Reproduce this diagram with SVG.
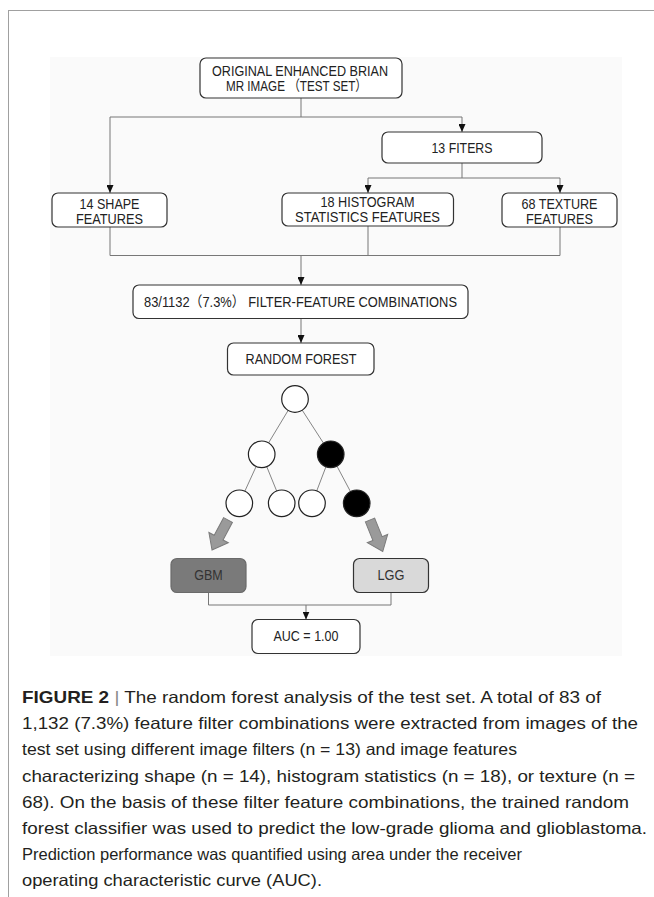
<svg xmlns="http://www.w3.org/2000/svg" width="654" height="897" viewBox="0 0 654 897">
<defs>
<marker id="ah" markerWidth="8" markerHeight="7" refX="8" refY="3.5" orient="auto" markerUnits="userSpaceOnUse"><path d="M0,0 L8,3.5 L0,7 z" fill="#111"/></marker>
<style>
.box{fill:#fff;stroke:#333;stroke-width:1.2}
.lbl{font-family:"Liberation Sans","Noto Sans CJK SC",sans-serif;font-size:14.5px;fill:#222;text-anchor:middle}
.ln{fill:none;stroke:#777;stroke-width:1}
.arr{marker-end:url(#ah)}
.edge{stroke:#777;stroke-width:0.9}
.nd{fill:#fff;stroke:#222;stroke-width:1.2}
.nd.blk{fill:#000}
.big{fill:#9a9a9a;stroke:#7a7a7a;stroke-width:1}
.cap{font-family:"Liberation Sans",Arial,sans-serif;font-size:16.5px;fill:#231f20}
</style>
</defs>
<rect x="0" y="0" width="654" height="897" fill="#fff"/>
<path d="M8,10.5 H654 M8.5,10 V897" fill="none" stroke="#a0a0a0" stroke-width="1"/>
<rect x="50" y="57" width="572" height="599" fill="#fafafa"/>

<g id="connectors">
<path class="ln" d="M301,98 V117"/>
<path class="ln arr" d="M301,117 H110 V193"/>
<path class="ln arr" d="M301,117 H462 V132"/>
<path class="ln" d="M462,163 V178"/>
<path class="ln arr" d="M462,178 H368 V193"/>
<path class="ln arr" d="M462,178 H560 V193"/>
<path class="ln" d="M110,227 V255.5 H301"/>
<path class="ln" d="M368,226 V255.5"/>
<path class="ln" d="M560,227 V255.5 H301"/>
<path class="ln arr" d="M301,255.5 V285"/>
<path class="ln arr" d="M301,318.5 V343"/>
<g class="edge">
<line x1="295" y1="399" x2="261.7" y2="454.3"/>
<line x1="295" y1="399" x2="330.7" y2="454.3"/>
<line x1="261.7" y1="454.3" x2="239.3" y2="503.3"/>
<line x1="261.7" y1="454.3" x2="281.7" y2="503.3"/>
<line x1="330.7" y1="454.3" x2="312" y2="503.3"/>
<line x1="330.7" y1="454.3" x2="356.7" y2="503.3"/>
</g>
<polygon class="big" transform="translate(228,520) rotate(28)" points="-5,0 5,0 5,20 11,20 0,34 -11,20 -5,20"/>
<polygon class="big" transform="translate(370,520) rotate(-22)" points="-5,0 5,0 5,20 11,20 0,34 -11,20 -5,20"/>
<path class="ln" d="M208.5,592.5 V605 H391 V592.5"/>
<path class="ln arr" d="M306,605 V619.5"/>
</g>

<g id="n-original">
<rect class="box" x="200" y="58" width="202" height="40" rx="6"/>
<text class="lbl" x="300" y="76" textLength="176" lengthAdjust="spacingAndGlyphs">ORIGINAL ENHANCED BRIAN</text>
<text class="lbl" x="296.5" y="91" textLength="141" lengthAdjust="spacingAndGlyphs">MR IMAGE （TEST SET）</text>
</g>
<g id="n-filters">
<rect class="box" x="382" y="132" width="160" height="31" rx="6"/>
<text class="lbl" x="462" y="152.5" textLength="61" lengthAdjust="spacingAndGlyphs">13 FITERS</text>
</g>
<g id="n-shape">
<rect class="box" x="52" y="193" width="115" height="34" rx="6"/>
<text class="lbl" x="109.5" y="208.5" textLength="60" lengthAdjust="spacingAndGlyphs">14 SHAPE</text>
<text class="lbl" x="109.5" y="223.5" textLength="67" lengthAdjust="spacingAndGlyphs">FEATURES</text>
</g>
<g id="n-histogram">
<rect class="box" x="282" y="193" width="171.5" height="33" rx="6"/>
<text class="lbl" x="367.5" y="207" textLength="94" lengthAdjust="spacingAndGlyphs">18 HISTOGRAM</text>
<text class="lbl" x="367.5" y="222" textLength="145" lengthAdjust="spacingAndGlyphs">STATISTICS FEATURES</text>
</g>
<g id="n-texture">
<rect class="box" x="502" y="193" width="115" height="34" rx="6"/>
<text class="lbl" x="559.5" y="208.5" textLength="76" lengthAdjust="spacingAndGlyphs">68 TEXTURE</text>
<text class="lbl" x="559.5" y="223.5" textLength="67" lengthAdjust="spacingAndGlyphs">FEATURES</text>
</g>
<g id="n-combinations">
<rect class="box" x="133" y="285" width="335" height="33.5" rx="6"/>
<text class="lbl" x="144" y="307" style="text-anchor:start" textLength="313" lengthAdjust="spacingAndGlyphs">83/1132（7.3%） FILTER-FEATURE COMBINATIONS</text>
</g>
<g id="n-forest">
<rect class="box" x="227.5" y="343" width="146.5" height="32" rx="6"/>
<text class="lbl" x="301" y="364" textLength="111" lengthAdjust="spacingAndGlyphs">RANDOM FOREST</text>
</g>
<g id="n-tree">
<circle class="nd" cx="295" cy="399" r="13.3"/>
<circle class="nd" cx="261.7" cy="454.3" r="13.3"/>
<circle class="nd blk" cx="330.7" cy="454.3" r="13.3"/>
<circle class="nd" cx="239.3" cy="503.3" r="13.3"/>
<circle class="nd" cx="281.7" cy="503.3" r="13.3"/>
<circle class="nd" cx="312" cy="503.3" r="13.3"/>
<circle class="nd blk" cx="356.7" cy="503.3" r="13.3"/>
</g>
<g id="n-gbm">
<rect x="171" y="558.5" width="75" height="34" rx="6" fill="#7a7a7a" stroke="#6a6a6a" stroke-width="1.2"/>
<text class="lbl" x="208.5" y="580" textLength="28.5" lengthAdjust="spacingAndGlyphs" style="fill:#333">GBM</text>
</g>
<g id="n-lgg">
<rect x="353.5" y="558.5" width="75" height="34" rx="6" fill="#d9d9d9" stroke="#333" stroke-width="1.2"/>
<text class="lbl" x="391" y="580" textLength="27" lengthAdjust="spacingAndGlyphs" style="fill:#333">LGG</text>
</g>
<g id="n-auc">
<rect class="box" x="252" y="619.5" width="108" height="34" rx="6"/>
<text class="lbl" x="306" y="641" textLength="65" lengthAdjust="spacingAndGlyphs">AUC = 1.00</text>
</g>

<g id="caption" class="cap">
<text x="22" y="703" textLength="579" lengthAdjust="spacingAndGlyphs"><tspan font-weight="bold">FIGURE 2</tspan> <tspan fill="#888">|</tspan> The random forest analysis of the test set. A total of 83 of</text>
<text x="22" y="729.2" textLength="616" lengthAdjust="spacingAndGlyphs">1,132 (7.3%) feature filter combinations were extracted from images of the</text>
<text x="22" y="755.4" textLength="495" lengthAdjust="spacingAndGlyphs">test set using different image filters (n = 13) and image features</text>
<text x="22" y="781.6" textLength="613" lengthAdjust="spacingAndGlyphs">characterizing shape (n = 14), histogram statistics (n = 18), or texture (n =</text>
<text x="22" y="807.8" textLength="607" lengthAdjust="spacingAndGlyphs">68). On the basis of these filter feature combinations, the trained random</text>
<text x="22" y="834" textLength="625" lengthAdjust="spacingAndGlyphs">forest classifier was used to predict the low-grade glioma and glioblastoma.</text>
<text x="22" y="860.2" textLength="500" lengthAdjust="spacingAndGlyphs">Prediction performance was quantified using area under the receiver</text>
<text x="22" y="886.4" textLength="300" lengthAdjust="spacingAndGlyphs">operating characteristic curve (AUC).</text>
</g>
</svg>
